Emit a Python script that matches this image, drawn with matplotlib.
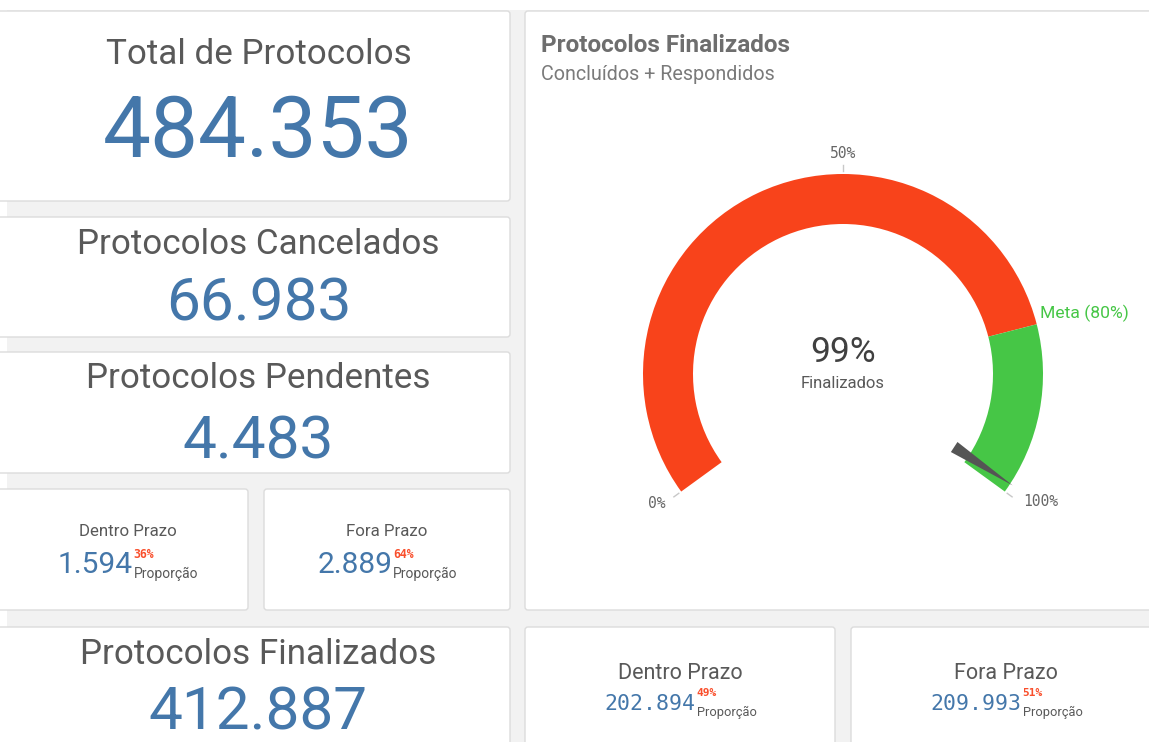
import matplotlib
matplotlib.use("Agg")
import matplotlib.pyplot as plt
from matplotlib.patches import FancyBboxPatch, Rectangle, Wedge, Polygon
import numpy as np

# ---------------- data ----------------
total_protocolos = 484353
cancelados = 66983
pendentes = 4483
pendentes_dentro = 1594
pendentes_fora = 2889
finalizados = 412887
finalizados_dentro = 202894
finalizados_fora = 209993
meta = 0.80
gauge_ticks = [0.0, 0.5, 1.0]
gauge_value = finalizados / (finalizados + pendentes)

W, H = 1149, 742
fig = plt.figure(figsize=(W / 100, H / 100), dpi=100)
fig.patch.set_facecolor("white")
ax = fig.add_axes([0, 0, 1, 1])
ax.set_xlim(0, W)
ax.set_ylim(0, H)
ax.axis("off")

def Y(y):
    return H - y

def fmt(n):
    return f"{n:,}".replace(",", ".")

SANS = ["Roboto", "DejaVu Sans"]
MONO = ["DejaVu Sans Mono"]
GRAY_T = "#595959"
BLUE = "#4477aa"
RED = "#f8431b"
GREEN = "#46c646"
SMALLRED = "#f94f2c"
NUMW = "normal"
TITW = "normal"

# background gray
ax.add_patch(Rectangle((7, 0), W - 7, Y(10), facecolor="#f2f2f2", edgecolor="none", zorder=0))

panels = [(-6, 11, 510, 201), (-6, 217, 510, 337), (-6, 352, 510, 473),
          (-6, 489, 248, 610), (264, 489, 510, 610), (-6, 627, 510, 760),
          (525, 11, 1165, 610), (525, 627, 835, 760), (851, 627, 1165, 760)]
for (x0, y0, x1, y1) in panels:
    ax.add_patch(FancyBboxPatch((x0, Y(y1)), x1 - x0, y1 - y0,
                                boxstyle="round,pad=0,rounding_size=3",
                                facecolor="white", edgecolor="#dcdcdc", lw=1.0, zorder=1))

# ---------------- KPI texts ----------------
cx = 258.5
TS = 25.2
NS = 43.5
ax.text(cx, Y(55), "Total de Protocolos", ha="center", va="center", fontsize=TS,
        family=SANS, fontweight=TITW, color=GRAY_T, zorder=3)
ax.text(cx, Y(134), fmt(total_protocolos), ha="center", va="center", fontsize=61.5,
        family=SANS, fontweight=NUMW, color=BLUE, zorder=3)
ax.text(cx, Y(244), "Protocolos Cancelados", ha="center", va="center", fontsize=TS,
        family=SANS, fontweight=TITW, color=GRAY_T, zorder=3)
ax.text(cx, Y(304), fmt(cancelados), ha="center", va="center", fontsize=NS,
        family=SANS, fontweight=NUMW, color=BLUE, zorder=3)
ax.text(cx, Y(379), "Protocolos Pendentes", ha="center", va="center", fontsize=TS,
        family=SANS, fontweight=TITW, color=GRAY_T, zorder=3)
ax.text(cx, Y(442), fmt(pendentes), ha="center", va="center", fontsize=NS,
        family=SANS, fontweight=NUMW, color=BLUE, zorder=3)
ax.text(cx, Y(654), "Protocolos Finalizados", ha="center", va="center", fontsize=TS,
        family=SANS, fontweight=TITW, color=GRAY_T, zorder=3)
ax.text(cx, Y(730), fmt(finalizados), ha="center", va="baseline", fontsize=NS,
        family=SANS, fontweight=NUMW, color=BLUE, zorder=3)

fig.canvas.draw()
renderer = fig.canvas.get_renderer()

def split_kpi(center_x, title_y, title, title_size, value, share, val_y,
              val_family, val_size, sup_size, sub_size):
    ax.text(center_x, Y(title_y), title, ha="center", va="center", fontsize=title_size,
            family=SANS, fontweight=TITW, color=GRAY_T, zorder=3)
    tv = ax.text(0, Y(val_y), fmt(value), ha="left", va="center", fontsize=val_size,
                 family=val_family, color=BLUE, zorder=3)
    ts = ax.text(0, Y(val_y - 11), f"{round(share * 100)}%", ha="left", va="center",
                 fontsize=sup_size, family=MONO, fontweight="bold", color=SMALLRED, zorder=3)
    tb = ax.text(0, Y(val_y + 9), "Proporção", ha="left", va="center", fontsize=sub_size,
                 family=SANS, color=GRAY_T, zorder=3)
    wv = tv.get_window_extent(renderer).width
    ws = max(ts.get_window_extent(renderer).width, tb.get_window_extent(renderer).width)
    x0 = center_x - (wv + ws) / 2
    tv.set_x(x0)
    ts.set_x(x0 + wv + 1)
    tb.set_x(x0 + wv + 1)

pend_total = pendentes_dentro + pendentes_fora
fin_total = finalizados_dentro + finalizados_fora
split_kpi(127.5, 531.5, "Dentro Prazo", 12.2, pendentes_dentro, pendentes_dentro / pend_total,
          565, SANS, 21.5, 8.3, 10)
split_kpi(387, 531.5, "Fora Prazo", 12.2, pendentes_fora, pendentes_fora / pend_total,
          565, SANS, 21.5, 8.3, 10)
split_kpi(680, 673.5, "Dentro Prazo", 15.5, finalizados_dentro, finalizados_dentro / fin_total,
          703.5, MONO, 15.5, 8, 9.3)
split_kpi(1006, 673.5, "Fora Prazo", 15.5, finalizados_fora, finalizados_fora / fin_total,
          703.5, MONO, 15.5, 8, 9.3)

# ---------------- gauge ----------------
ax.text(541, Y(45), "Protocolos Finalizados", ha="left", va="center", fontsize=17.5,
        family=SANS, fontweight="bold", color="#6e6e6e", zorder=3)
ax.text(541, Y(74), "Concluídos + Respondidos", ha="left", va="center", fontsize=14.2,
        family=SANS, color="#7a7a7a", zorder=3)

gx, gy = 843, Y(374)
R_OUT, R_W = 200, 50
SPAN = 126.0

def theta(v):
    return 90 + SPAN - 2 * SPAN * v

ax.add_patch(Wedge((gx, gy), R_OUT, theta(meta), theta(0), width=R_W,
                   facecolor=RED, edgecolor="none", zorder=3))
ax.add_patch(Wedge((gx, gy), R_OUT, theta(1), theta(meta), width=R_W,
                   facecolor=GREEN, edgecolor="none", zorder=3))

# needle
a = np.deg2rad(theta(gauge_value))
ux, uy = np.cos(a), np.sin(a)
px, py = -uy, ux
r0, r1, hw = 133, 203, 6
needle = [(gx + r1 * ux, gy + r1 * uy),
          (gx + r0 * ux + hw * px, gy + r0 * uy + hw * py),
          (gx + r0 * ux - hw * px, gy + r0 * uy - hw * py)]
ax.add_patch(Polygon(needle, closed=True, facecolor="#555555", edgecolor="none", zorder=4))

# ticks
for v in gauge_ticks:
    t = np.deg2rad(theta(v))
    ax.plot([gx + 203 * np.cos(t), gx + 209 * np.cos(t)],
            [gy + 203 * np.sin(t), gy + 209 * np.sin(t)], color="#c8c8c8", lw=1, zorder=3)
    lab = f"{int(v * 100)}%"
    if v == 0.5:
        ax.text(gx, gy + 220, lab, ha="center", va="center", fontsize=10.5,
                family=MONO, color="#666666", zorder=3)
    elif v < 0.5:
        ax.text(gx + 219 * np.cos(t), gy + 219 * np.sin(t) - 1, lab, ha="right", va="center",
                fontsize=10.5, family=MONO, color="#666666", zorder=3)
    else:
        ax.text(gx + 223 * np.cos(t), gy + 223 * np.sin(t) + 4, lab, ha="left", va="center",
                fontsize=10.5, family=MONO, color="#666666", zorder=3)

tm = np.deg2rad(theta(meta))
ax.text(gx + 203 * np.cos(tm), gy + 203 * np.sin(tm) + 2, f"Meta ({int(meta * 100)}%)",
        ha="left", va="bottom", fontsize=12.6, family=SANS, color=GREEN, zorder=3)

ax.text(gx, Y(353), f"{round(gauge_value * 100)}%", ha="center", va="center", fontsize=25.5,
        family=SANS, color="#404040", zorder=3)
ax.text(gx, Y(384), "Finalizados", ha="center", va="center", fontsize=12,
        family=SANS, color=GRAY_T, zorder=3)

fig.savefig("out.png", dpi=100, facecolor="white")
